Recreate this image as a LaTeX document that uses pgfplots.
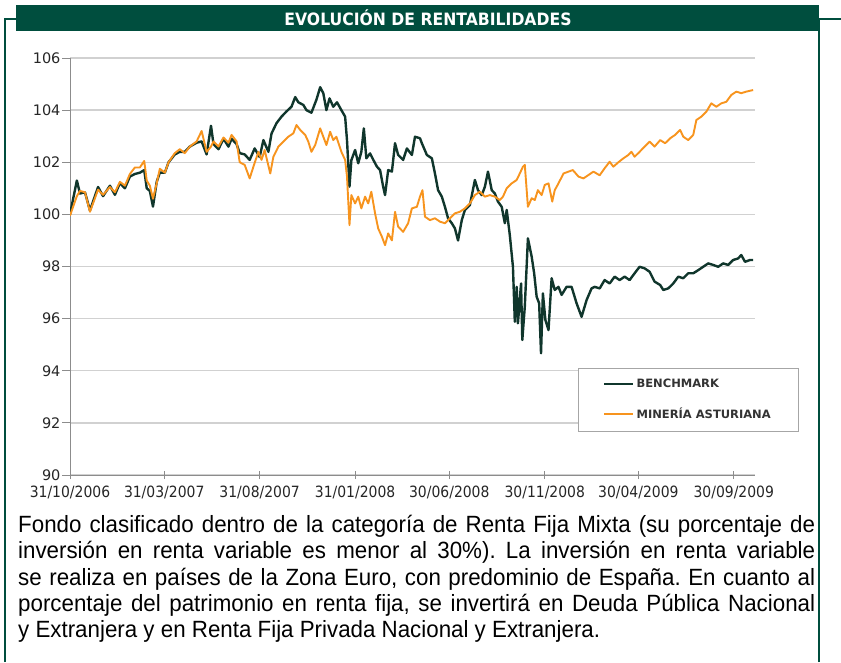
\documentclass[border=0pt]{standalone}
\usepackage{fontspec}
\setmainfont[FakeStretch=0.95]{Liberation Sans}
\newfontfamily\dejavu{DejaVu Sans}
\newfontfamily\dejavucond[FakeStretch=0.9]{DejaVu Sans}
\newfontfamily\titlefont[FakeStretch=0.92]{DejaVu Sans}
\usepackage{pgfplots}
\usepackage{pgfplotstable}
\pgfplotsset{compat=1.18}
\definecolor{frameg}{RGB}{0,78,62}
\definecolor{bench}{RGB}{16,54,44}
\definecolor{mina}{RGB}{247,148,30}

\pgfplotstableread{
d v
0 100.0
11 101.3
16 100.8
24 100.85
32 100.15
45 101.05
53 100.7
64 101.1
72 100.75
80 101.2
88 101.0
96 101.45
104 101.55
112 101.6
119 101.7
123 101.0
128 100.9
133 100.3
139 101.25
144 101.6
152 101.6
158 102.0
168 102.3
176 102.4
184 102.4
192 102.6
203 102.75
211 102.8
219 102.3
226 103.4
230 102.7
238 102.5
246 102.9
254 102.6
259 102.9
267 102.7
272 102.35
280 102.3
288 102.09
296 102.53
304 102.2
310 102.85
318 102.4
323 103.1
331 103.5
339 103.75
347 103.95
355 104.13
361 104.5
366 104.3
374 104.2
379 104.0
387 103.9
395 104.4
401 104.88
406 104.65
411 104.0
416 104.45
422 104.13
428 104.3
435 104.0
441 103.75
444 102.85
448 101.06
451 102.08
457 102.47
462 101.96
467 102.4
471 103.3
475 102.15
481 102.34
486 102.1
492 101.83
497 101.7
502 101.06
505 100.74
510 101.7
516 101.64
521 102.73
526 102.28
534 102.09
540 102.53
548 102.28
553 102.98
561 102.92
564 102.73
572 102.28
580 102.15
585 101.57
590 100.93
596 100.68
601 100.29
606 99.85
612 99.66
617 99.46
622 99.0
628 99.78
633 100.17
641 100.36
649 101.32
654 100.93
660 100.74
665 101.06
670 101.64
676 100.93
681 100.8
686 100.49
692 100.29
697 99.66
700 100.17
705 99.2
710 97.99
713 95.88
716 97.22
718 95.82
723 97.35
725 95.18
729 96.46
734 99.08
740 98.38
744 97.74
748 96.84
752 96.59
755 94.67
758 96.97
762 95.95
767 95.56
772 97.55
777 97.1
783 97.22
788 96.91
796 97.22
804 97.22
812 96.59
820 96.07
828 96.71
836 97.16
841 97.22
849 97.16
857 97.48
865 97.35
873 97.61
881 97.48
889 97.61
897 97.48
905 97.74
913 97.99
921 97.93
929 97.8
937 97.42
946 97.29
951 97.1
959 97.16
967 97.35
975 97.61
983 97.55
991 97.74
999 97.74
1007 97.86
1015 97.99
1023 98.12
1031 98.06
1039 97.99
1047 98.12
1055 98.06
1063 98.25
1071 98.31
1076 98.44
1082 98.18
1090 98.25
1095 98.25
}\benchtable

\pgfplotstableread{
d v
0 99.95
11 100.7
16 100.9
24 100.85
32 100.1
45 100.95
53 100.75
64 101.05
72 100.85
80 101.25
88 101.1
96 101.55
104 101.8
112 101.8
119 102.05
123 101.3
128 101.1
133 100.6
139 101.2
144 101.75
152 101.6
158 102.0
168 102.35
176 102.5
184 102.35
192 102.6
203 102.8
211 103.2
219 102.4
226 102.6
230 102.8
238 102.6
246 102.95
254 102.75
259 103.05
267 102.8
272 102.0
280 101.9
288 101.38
294 101.83
302 102.4
307 102.09
312 102.47
321 101.57
326 102.21
334 102.6
342 102.79
350 102.98
358 103.11
363 103.43
369 103.24
377 103.05
382 102.79
387 102.4
393 102.66
401 103.3
406 102.98
411 102.66
417 103.17
422 102.85
427 102.98
435 102.4
441 102.09
444 101.45
448 99.59
451 100.74
457 100.42
462 100.68
467 100.23
473 100.68
478 100.42
483 100.87
489 100.04
494 99.46
500 99.14
505 98.82
510 99.27
516 99.0
521 100.1
526 99.53
534 99.33
542 99.66
548 100.23
556 100.29
561 100.68
565 100.93
569 99.91
577 99.78
585 99.85
593 99.72
601 99.66
609 99.85
617 100.04
625 100.1
633 100.23
641 100.42
649 100.74
657 100.87
665 100.68
673 100.74
681 100.68
689 100.55
694 100.68
700 101.0
708 101.19
716 101.32
721 101.57
726 101.83
729 101.9
734 100.29
740 100.62
745 100.55
750 100.93
756 100.74
761 101.13
767 101.19
773 100.49
777 100.93
783 101.19
791 101.57
799 101.64
806 101.7
815 101.45
823 101.38
831 101.51
839 101.64
849 101.5
857 101.77
865 102.02
871 101.83
879 102.0
887 102.15
895 102.28
900 102.4
905 102.21
913 102.4
921 102.6
929 102.79
937 102.6
946 102.85
954 102.73
962 102.92
970 103.05
978 103.24
983 102.98
991 102.85
999 103.05
1004 103.62
1012 103.75
1020 103.94
1028 104.26
1036 104.13
1044 104.26
1052 104.32
1060 104.58
1068 104.71
1076 104.65
1084 104.71
1095 104.77
}\minatable

\begin{document}
\begin{tikzpicture}[x=1pt,y=1pt]
\useasboundingbox (0,0) rectangle (841,-662);
% frame
\draw[frameg, line width=1.5pt] (5,-662) -- (5,-19) -- (16,-19);
\draw[frameg, line width=1.5pt] (819,-662) -- (819,-19) -- (841,-19);
\fill[frameg] (16,-5) rectangle (819,-31);
\node[white, font=\titlefont\bfseries\fontsize{17}{19}\selectfont] at (428,-18) {EVOLUCIÓN DE RENTABILIDADES};

\begin{axis}[
  at={(70pt,-475pt)}, anchor=south west,
  scale only axis, width=685pt, height=417pt,
  xmin=0, xmax=1098, ymin=90, ymax=106,
  axis x line*=bottom, axis y line*=left,
  axis line style={black!45, line width=1pt, -},
  ytick={90,92,...,106},
  xtick={0,151,304,457,608,761,911,1064},
  xticklabels={31/10/2006,31/03/2007,31/08/2007,31/01/2008,30/06/2008,30/11/2008,30/04/2009,30/09/2009},
  xtick align=center, ytick align=outside,
  major tick length=8pt,
  tick style={black!45, line width=0.8pt},
  ymajorgrids, grid style={black!18, line width=1.4pt},
  /pgf/number format/assume math mode=true,
  yticklabel style={font=\dejavu\fontsize{14.5}{16}\selectfont, text=black!85, xshift=2pt},
  xticklabel style={font=\dejavucond\fontsize{15.5}{17}\selectfont, text=black!85, yshift=-3pt},
  legend style={at={(0.7416,0.2566)}, anchor=north west, draw=black!35, fill=white,
    font=\dejavu\bfseries\fontsize{11.5}{13}\selectfont, text=black!80,
    inner xsep=25pt, inner ysep=10pt, row sep=17pt,
    nodes={inner xsep=2pt, inner ysep=1pt}},
  legend cell align=left,
  legend image code/.code={\draw[#1] (0pt,0pt) -- (29pt,0pt);},
]
\addplot[bench, line width=2.4pt, line join=round] table[x=d, y=v] {\benchtable};
\addlegendentry{BENCHMARK}
\addplot[mina, line width=1.9pt, line join=round] table[x=d, y=v] {\minatable};
\addlegendentry{MINERÍA ASTURIANA}
\end{axis}

\node[anchor=north west, inner sep=0pt, text width=797pt, align=justify,
  font=\fontsize{23.5}{26.25}\selectfont\frenchspacing] at (18,-515) {Fondo clasificado dentro de la categoría de Renta Fija Mixta (su porcentaje de\linebreak inversión en renta variable es menor al 30\%). La inversión en renta variable\linebreak se realiza en países de la Zona Euro, con predominio de España. En cuanto al\linebreak porcentaje del patrimonio en renta fija, se invertirá en Deuda Pública Nacional\linebreak y Extranjera y en Renta Fija Privada Nacional y Extranjera.};
\end{tikzpicture}
\end{document}
